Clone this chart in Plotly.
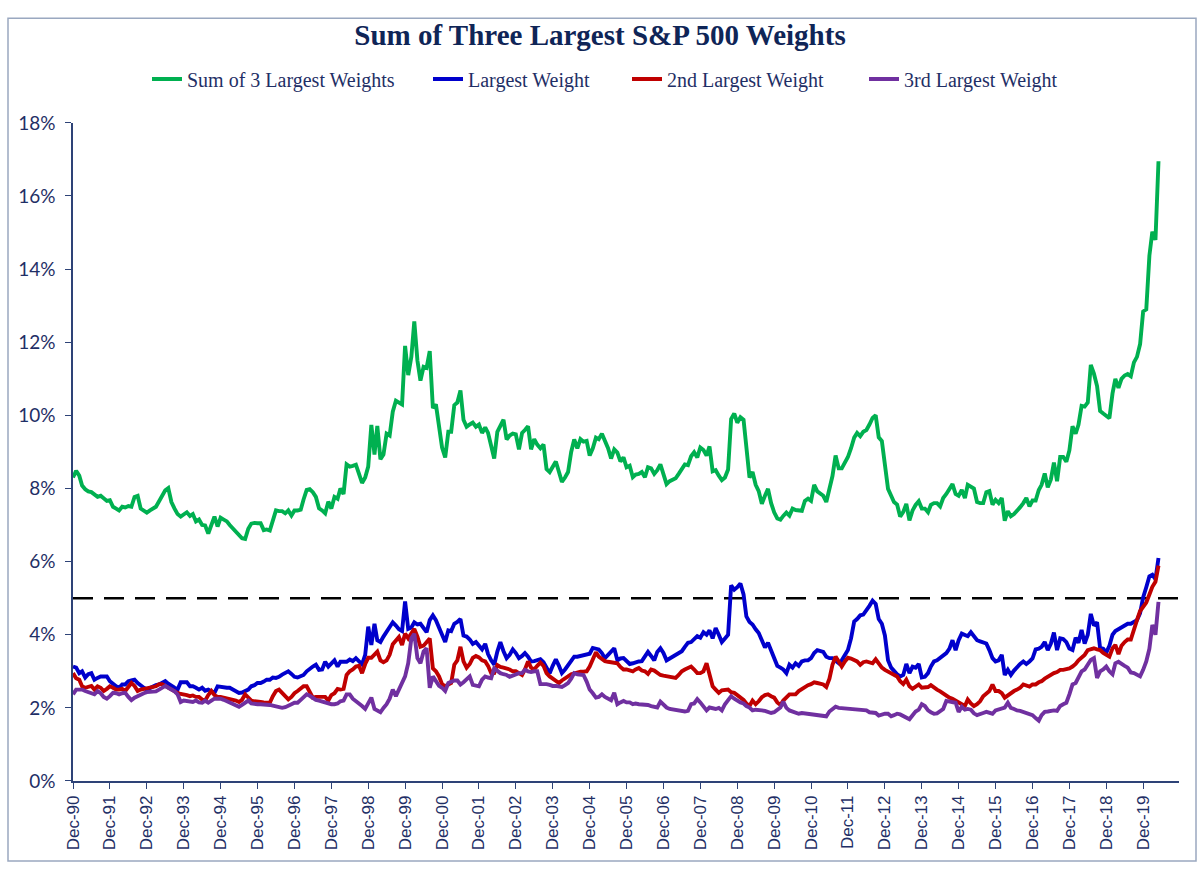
import pandas as pd
import plotly.graph_objects as go

# ---------------- data (percent of S&P 500 market cap), monthly from Dec-1990 ----------------
start_month = "1990-12-01"

sum_top3 = [
    8.30,
    8.48, 8.35, 8.08, 7.98, 7.92, 7.90, 7.82, 7.77, 7.80, 7.72, 7.66, 7.68,
    7.50, 7.45, 7.40, 7.50, 7.48, 7.52, 7.50, 7.77, 7.80, 7.45, 7.40, 7.34,
    7.40, 7.45, 7.50, 7.65, 7.80, 7.95, 8.01, 7.63, 7.45, 7.30, 7.23, 7.30,
    7.35, 7.25, 7.30, 7.10, 7.15, 7.00, 6.99, 6.77, 7.00, 7.23, 6.96, 7.20,
    7.15, 7.10, 7.00, 6.90, 6.80, 6.70, 6.64, 6.62, 6.90, 7.04, 7.06, 7.05,
    7.05, 6.86, 6.88, 6.85, 7.15, 7.40, 7.38, 7.38, 7.32, 7.40, 7.26, 7.40,
    7.40, 7.42, 7.70, 7.96, 7.98, 7.90, 7.77, 7.46, 7.40, 7.32, 7.64, 7.45,
    7.77, 7.72, 8.00, 7.85, 8.66, 8.60, 8.62, 8.65, 8.40, 8.15, 8.30, 8.60,
    9.74, 8.93, 9.71, 8.80, 8.93, 9.50, 9.45, 10.10, 10.40, 10.35, 10.30, 11.90,
    11.10, 11.60, 12.57, 11.50, 10.95, 11.33, 11.30, 11.76, 10.20, 10.30, 9.60, 9.12,
    8.85, 9.55, 9.55, 10.28, 10.35, 10.68, 9.88, 9.69, 9.75, 9.80, 9.69, 9.75,
    9.52, 9.67, 9.52, 9.10, 8.82, 9.55, 9.70, 9.88, 9.34, 9.45, 9.50, 9.48,
    9.07, 9.52, 9.60, 9.70, 9.07, 9.35, 9.20, 9.10, 9.20, 8.53, 8.45, 8.60,
    8.74, 8.45, 8.18, 8.30, 8.45, 9.00, 9.34, 9.10, 9.35, 9.28, 9.30, 8.90,
    9.10, 9.39, 9.35, 9.50, 9.30, 9.10, 8.82, 9.07, 8.98, 8.74, 8.85, 8.58,
    8.62, 8.31, 8.38, 8.40, 8.45, 8.31, 8.58, 8.55, 8.40, 8.50, 8.66, 8.40,
    8.12, 8.20, 8.25, 8.28, 8.40, 8.55, 8.66, 8.64, 8.88, 8.99, 8.85, 9.12,
    9.05, 8.90, 9.15, 8.47, 8.50, 8.35, 8.23, 8.30, 8.52, 9.90, 10.05, 9.80,
    9.95, 9.88, 8.99, 8.30, 8.45, 8.10, 7.93, 7.58, 7.80, 7.99, 7.60, 7.35,
    7.18, 7.15, 7.25, 7.34, 7.26, 7.45, 7.41, 7.40, 7.39, 7.66, 7.72, 7.66,
    8.10, 7.92, 7.85, 7.80, 7.63, 8.00, 8.34, 8.90, 8.55, 8.55, 8.70, 8.86,
    9.10, 9.39, 9.52, 9.43, 9.55, 9.60, 9.75, 9.93, 10.00, 9.40, 9.30, 8.74,
    7.99, 7.80, 7.63, 7.56, 7.23, 7.36, 7.58, 7.13, 7.40, 7.55, 7.65, 7.45,
    7.45, 7.35, 7.55, 7.60, 7.60, 7.51, 7.74, 7.85, 7.99, 8.12, 7.85, 7.80,
    7.96, 7.74, 8.10, 8.05, 8.00, 7.63, 7.60, 7.60, 7.90, 7.93, 7.56, 7.69,
    7.60, 7.74, 7.12, 7.38, 7.24, 7.30, 7.38, 7.49, 7.60, 7.74, 7.51, 7.67,
    7.67, 7.96, 8.10, 8.41, 8.03, 8.25, 8.71, 8.20, 8.86, 8.86, 8.73, 9.04,
    9.70, 9.50, 9.74, 10.26, 10.24, 10.35, 11.38, 11.14, 10.80, 10.12, 10.05, 9.99,
    9.92, 10.60, 11.00, 10.75, 11.00, 11.09, 11.13, 11.07, 11.45, 11.60, 11.95, 12.84,
    12.90, 14.37, 15.02, 14.80, 16.95,
]

largest = [
    3.13,
    3.10, 2.95, 3.00, 2.83, 2.92, 2.95, 2.77, 2.82, 2.86, 2.86, 2.86, 2.73,
    2.65, 2.59, 2.55, 2.64, 2.64, 2.73, 2.75, 2.77, 2.68, 2.60, 2.55, 2.50,
    2.55, 2.59, 2.62, 2.64, 2.68, 2.73, 2.66, 2.59, 2.55, 2.50, 2.70, 2.70,
    2.70, 2.59, 2.59, 2.55, 2.50, 2.55, 2.47, 2.50, 2.45, 2.41, 2.59, 2.57,
    2.56, 2.55, 2.55, 2.50, 2.45, 2.41, 2.42, 2.45, 2.50, 2.59, 2.62, 2.68,
    2.68, 2.72, 2.77, 2.77, 2.83, 2.82, 2.85, 2.91, 2.96, 3.00, 2.93, 2.85,
    2.83, 2.86, 2.90, 3.00, 3.08, 3.13, 3.18, 3.04, 3.05, 3.26, 3.13, 3.22,
    3.30, 3.13, 3.26, 3.26, 3.26, 3.32, 3.28, 3.36, 3.27, 3.19, 3.45, 4.22,
    3.72, 4.30, 3.85, 3.80, 3.95, 4.07, 4.20, 4.34, 4.25, 4.15, 4.10, 4.91,
    4.16, 4.20, 4.34, 4.28, 4.30, 4.20, 4.07, 4.40, 4.53, 4.40, 4.16, 4.00,
    3.80, 4.12, 4.10, 4.30, 4.35, 4.43, 3.98, 3.95, 3.87, 3.75, 3.80, 3.70,
    3.60, 3.75, 3.47, 3.30, 3.18, 3.54, 3.80, 3.55, 3.36, 3.45, 3.60, 3.50,
    3.36, 3.42, 3.50, 3.40, 3.27, 3.28, 3.30, 3.33, 3.25, 3.10, 2.95, 3.15,
    3.33, 3.15, 2.95, 3.05, 3.18, 3.30, 3.40, 3.40, 3.42, 3.42, 3.44, 3.48,
    3.64, 3.62, 3.60, 3.50, 3.36, 3.45, 3.55, 3.63, 3.30, 3.35, 3.36, 3.28,
    3.20, 3.22, 3.25, 3.27, 3.28, 3.40, 3.53, 3.42, 3.30, 3.53, 3.63, 3.50,
    3.30, 3.35, 3.40, 3.44, 3.50, 3.55, 3.67, 3.78, 3.80, 3.87, 3.96, 3.92,
    4.07, 4.00, 4.12, 3.90, 4.18, 4.00, 3.80, 3.90, 4.00, 5.35, 5.23, 5.30,
    5.40, 5.10, 4.50, 4.35, 4.28, 4.15, 4.05, 3.85, 3.65, 3.78, 3.55, 3.35,
    3.15, 3.10, 3.05, 2.95, 3.18, 3.10, 3.22, 3.15, 3.27, 3.30, 3.30, 3.36,
    3.50, 3.58, 3.55, 3.53, 3.40, 3.36, 3.36, 3.30, 3.22, 3.30, 3.45, 3.58,
    3.90, 4.36, 4.43, 4.53, 4.55, 4.66, 4.79, 4.93, 4.84, 4.43, 4.30, 3.98,
    3.30, 3.10, 3.00, 2.92, 2.86, 2.90, 3.20, 2.95, 3.13, 3.10, 3.20, 2.83,
    2.85, 2.95, 3.13, 3.27, 3.30, 3.36, 3.45, 3.50, 3.62, 3.85, 3.58, 3.85,
    4.03, 4.00, 3.96, 4.07, 3.95, 3.85, 3.82, 3.78, 3.76, 3.58, 3.36, 3.27,
    3.30, 3.45, 2.90, 3.04, 2.90, 3.02, 3.13, 3.20, 3.27, 3.20, 3.27, 3.35,
    3.60, 3.62, 3.67, 3.80, 3.58, 3.76, 4.06, 3.58, 3.90, 3.88, 3.80, 3.62,
    3.58, 3.92, 3.78, 4.13, 3.76, 4.00, 4.57, 4.25, 4.34, 3.64, 3.62, 3.51,
    3.70, 4.00, 4.10, 4.15, 4.18, 4.25, 4.30, 4.30, 4.35, 4.40, 4.59, 5.02,
    5.30, 5.60, 5.64, 5.52, 6.10,
]

second_largest = [
    2.95,
    2.81, 2.77, 2.59, 2.55, 2.58, 2.60, 2.50, 2.59, 2.55, 2.46, 2.52, 2.59,
    2.55, 2.50, 2.50, 2.52, 2.46, 2.58, 2.68, 2.60, 2.46, 2.50, 2.52, 2.52,
    2.55, 2.57, 2.59, 2.65, 2.65, 2.60, 2.55, 2.50, 2.45, 2.41, 2.38, 2.37,
    2.35, 2.32, 2.34, 2.30, 2.30, 2.23, 2.20, 2.35, 2.46, 2.35, 2.30, 2.30,
    2.28, 2.27, 2.25, 2.22, 2.20, 2.16, 2.22, 2.37, 2.30, 2.20, 2.18, 2.18,
    2.16, 2.15, 2.14, 2.14, 2.32, 2.46, 2.50, 2.40, 2.30, 2.23, 2.30, 2.40,
    2.46, 2.52, 2.59, 2.59, 2.45, 2.28, 2.30, 2.30, 2.30, 2.30, 2.20, 2.35,
    2.40, 2.52, 2.50, 2.52, 2.90, 3.00, 3.05, 3.13, 3.15, 2.95, 3.20, 3.37,
    3.37, 3.45, 3.54, 3.30, 3.25, 3.30, 3.45, 3.74, 3.85, 3.94, 3.72, 4.03,
    3.90, 4.03, 4.16, 3.95, 3.67, 3.70, 3.80, 3.90, 3.08, 3.00, 2.86, 2.65,
    2.59, 2.65, 2.68, 3.18, 3.30, 3.67, 3.27, 3.10, 3.20, 3.37, 3.42, 3.38,
    3.30, 3.27, 3.15, 2.95, 2.95, 3.17, 3.12, 3.10, 3.08, 3.05, 3.00, 3.00,
    2.95, 2.90, 3.05, 3.27, 3.10, 3.05, 3.15, 3.24, 3.15, 2.95, 2.86, 2.80,
    2.75, 2.68, 2.75, 2.82, 2.86, 2.92, 2.95, 2.96, 2.99, 2.99, 3.00, 3.13,
    3.30, 3.52, 3.40, 3.33, 3.28, 3.26, 3.24, 3.24, 3.22, 3.12, 3.05, 3.05,
    3.02, 3.00, 3.05, 3.09, 3.02, 3.00, 2.93, 3.05, 3.02, 2.96, 2.90, 2.88,
    2.86, 2.85, 2.84, 2.82, 2.90, 3.00, 3.05, 3.08, 3.13, 3.05, 2.95, 2.95,
    3.00, 3.22, 2.86, 2.59, 2.50, 2.41, 2.48, 2.50, 2.50, 2.43, 2.41, 2.35,
    2.29, 2.22, 2.12, 2.05, 2.20, 2.10, 2.18, 2.29, 2.35, 2.37, 2.32, 2.28,
    2.15, 2.08, 2.20, 2.29, 2.37, 2.37, 2.37, 2.46, 2.52, 2.59, 2.62, 2.65,
    2.70, 2.68, 2.66, 2.64, 2.57, 2.80, 3.18, 3.40, 3.27, 3.13, 3.27, 3.37,
    3.35, 3.30, 3.27, 3.18, 3.25, 3.27, 3.25, 3.22, 3.33, 3.22, 3.10, 3.04,
    3.00, 2.95, 2.90, 2.86, 2.73, 2.65, 2.77, 2.59, 2.52, 2.58, 2.64, 2.55,
    2.55, 2.57, 2.62, 2.55, 2.50, 2.45, 2.40, 2.32, 2.28, 2.25, 2.19, 2.15,
    2.10, 2.05, 2.23, 2.12, 2.05, 2.10, 2.18, 2.32, 2.40, 2.46, 2.64, 2.46,
    2.46, 2.40, 2.28, 2.35, 2.40, 2.46, 2.50, 2.55, 2.64, 2.60, 2.58, 2.64,
    2.64, 2.70, 2.73, 2.80, 2.86, 2.90, 2.95, 2.98, 3.04, 3.04, 3.06, 3.08,
    3.13, 3.20, 3.30, 3.36, 3.45, 3.58, 3.60, 3.63, 3.60, 3.58, 3.50, 3.45,
    3.40, 3.63, 3.72, 3.47, 3.70, 3.80, 3.87, 3.87, 4.18, 4.40, 4.65, 4.75,
    4.88, 5.10, 5.31, 5.45, 5.89,
]

third_largest = [
    2.37,
    2.50, 2.50, 2.50, 2.46, 2.43, 2.40, 2.37, 2.46, 2.40, 2.30, 2.25, 2.32,
    2.41, 2.40, 2.37, 2.40, 2.41, 2.30, 2.21, 2.28, 2.33, 2.37, 2.40, 2.43,
    2.43, 2.43, 2.45, 2.50, 2.55, 2.60, 2.55, 2.50, 2.45, 2.37, 2.16, 2.20,
    2.18, 2.16, 2.16, 2.20, 2.15, 2.14, 2.20, 2.14, 2.20, 2.25, 2.25, 2.25,
    2.22, 2.18, 2.14, 2.10, 2.06, 2.03, 2.08, 2.14, 2.20, 2.12, 2.10, 2.10,
    2.10, 2.10, 2.09, 2.08, 2.06, 2.04, 2.03, 2.00, 2.02, 2.05, 2.10, 2.14,
    2.14, 2.22, 2.30, 2.37, 2.33, 2.27, 2.22, 2.20, 2.17, 2.14, 2.12, 2.10,
    2.10, 2.12, 2.18, 2.20, 2.37, 2.37, 2.25, 2.19, 2.10, 2.05, 1.97, 2.10,
    2.28, 1.97, 1.92, 1.88, 2.00, 2.10, 2.25, 2.50, 2.32, 2.50, 2.70, 2.86,
    3.22, 3.90, 4.03, 3.36, 3.22, 3.54, 3.63, 2.55, 2.86, 2.75, 2.60, 2.55,
    2.46, 2.68, 2.72, 2.75, 2.75, 2.64, 2.70, 2.80, 2.86, 2.63, 2.62, 2.59,
    2.77, 2.86, 2.83, 2.81, 3.08, 3.00, 2.95, 2.92, 2.90, 2.85, 2.88, 2.90,
    2.95, 2.95, 3.04, 3.00, 2.98, 3.00, 3.00, 2.65, 2.66, 2.65, 2.63, 2.60,
    2.60, 2.58, 2.57, 2.62, 2.68, 2.80, 2.95, 2.92, 2.90, 2.90, 2.72, 2.50,
    2.40, 2.28, 2.30, 2.37, 2.30, 2.25, 2.21, 2.41, 2.10, 2.15, 2.19, 2.15,
    2.15, 2.10, 2.12, 2.10, 2.10, 2.08, 2.08, 2.05, 2.03, 2.01, 2.17, 2.08,
    2.01, 1.97, 1.96, 1.95, 1.94, 1.93, 1.90, 1.92, 2.10, 2.12, 2.24, 2.15,
    2.05, 1.93, 2.01, 1.98, 1.97, 2.00, 1.93, 2.10, 2.20, 2.32, 2.25, 2.19,
    2.15, 2.12, 2.05, 2.01, 1.93, 1.95, 1.93, 1.93, 1.92, 1.90, 1.86, 1.88,
    1.93, 2.01, 2.17, 2.00, 1.93, 1.90, 1.87, 1.84, 1.86, 1.85, 1.84, 1.83,
    1.82, 1.81, 1.78, 1.77, 1.77, 1.90, 1.95, 2.03, 2.00, 1.99, 1.98, 1.98,
    1.97, 1.97, 1.96, 1.95, 1.93, 1.93, 1.88, 1.87, 1.86, 1.79, 1.82, 1.84,
    1.84, 1.77, 1.80, 1.84, 1.82, 1.78, 1.75, 1.69, 1.80, 1.90, 1.95, 2.10,
    2.05, 1.93, 1.88, 1.84, 1.85, 1.90, 1.97, 2.19, 2.18, 2.16, 2.14, 1.89,
    2.03, 1.95, 1.97, 1.95, 1.85, 1.80, 1.82, 1.86, 1.89, 1.87, 1.84, 1.93,
    1.95, 1.97, 2.01, 2.14, 2.00, 1.97, 1.93, 1.92, 1.89, 1.88, 1.84, 1.80,
    1.72, 1.65, 1.80, 1.89, 1.90, 1.92, 1.93, 1.92, 2.05, 2.10, 2.14, 2.37,
    2.64, 2.68, 2.86, 3.00, 3.05, 3.20, 3.31, 3.36, 2.82, 3.00, 3.05, 3.13,
    3.00, 2.92, 3.22, 3.26, 3.22, 3.15, 3.10, 2.97, 2.95, 2.90, 2.86, 3.04,
    3.27, 3.62, 4.27, 4.00, 4.90,
]

series_names = ["Sum of 3 Largest Weights", "Largest Weight",
                "2nd Largest Weight", "3rd Largest Weight"]
threshold = 5.0
title_text = "Sum of Three Largest S&P 500 Weights"

# ---------------- styling ----------------
colors = ["#00B050", "#0000CC", "#C00000", "#7030A0"]
navy = "#1F2F66"
axis_col = "#2E4377"
serif = "Liberation Serif, Times New Roman, serif"
sans = "Liberation Sans, Arial, sans-serif"
ytick_font = "Lato, Carlito, Open Sans, sans-serif"

dates = pd.date_range(start_month, periods=len(sum_top3), freq="MS")
all_series = [sum_top3, largest, second_largest, third_largest]
legend_ids = ["legend", "legend2", "legend3", "legend4"]
legend_x_px = [147, 428, 627, 864]

fig = go.Figure()
for vals, name, col, lid in zip(all_series, series_names, colors, legend_ids):
    fig.add_trace(go.Scatter(
        x=dates, y=vals, mode="lines", name=name,
        line=dict(color=col, width=3.9), legend=lid,
        hovertemplate="%{x|%b-%y}: %{y:.2f}%<extra>" + name + "</extra>",
    ))

W, H = 1200, 869
legend_common = dict(orientation="h", xref="container", yref="container",
                     xanchor="left", yanchor="middle", y=1 - 79 / H,
                     font=dict(family=serif, size=20, color=navy),
                     bgcolor="rgba(0,0,0,0)", borderwidth=0)
layout_legends = {}
for lid, xp in zip(legend_ids, legend_x_px):
    layout_legends[lid] = dict(legend_common, x=xp / W)

# plot area in pixels
L, R, T, B = 73, 1179, 114, 781
fig.update_layout(
    width=W, height=H, autosize=False,
    margin=dict(l=L, r=W - R, t=T, b=H - B, pad=0),
    paper_bgcolor="white", plot_bgcolor="white",
    showlegend=True,
    title=dict(text=title_text, x=0.5, xanchor="center", xref="container",
               y=1 - 35 / H, yanchor="middle", yref="container",
               font=dict(family=serif, size=29, color="#0F2557", weight="bold")),
    xaxis=dict(type="date", range=["1990-12-01", "2020-11-20"],
               tick0="1990-12-01", dtick="M12", tickformat="%b-%y",
               tickangle=-90, ticks="outside", ticklen=6, tickwidth=1.3,
               tickcolor=axis_col, showline=True, linecolor=axis_col, linewidth=1.5,
               showgrid=False, zeroline=False,
               tickfont=dict(family=sans, size=17, color=navy)),
    yaxis=dict(range=[0, 18], dtick=2, tick0=0, ticksuffix="%",
               ticks="outside", ticklen=6, tickwidth=1.3, tickcolor=axis_col,
               showline=True, linecolor=axis_col, linewidth=1.5,
               showgrid=False, zeroline=False, ticklabelstandoff=6,
               tickfont=dict(family=ytick_font, size=19, color=navy)),
    **layout_legends,
)

pw, ph = R - L, B - T
fig.add_shape(type="line", xref="paper", yref="y", x0=0, x1=1,
              y0=threshold, y1=threshold, layer="below",
              line=dict(color="black", width=2.6, dash="20px,11px"))
fig.add_shape(type="rect", xref="paper", yref="paper",
              x0=(8 - L) / pw, x1=(1196 - L) / pw,
              y0=(B - 862) / ph, y1=(B - 8) / ph,
              line=dict(color="#9AA8C0", width=1.5), fillcolor="rgba(0,0,0,0)")

fig.write_html("out.html")
